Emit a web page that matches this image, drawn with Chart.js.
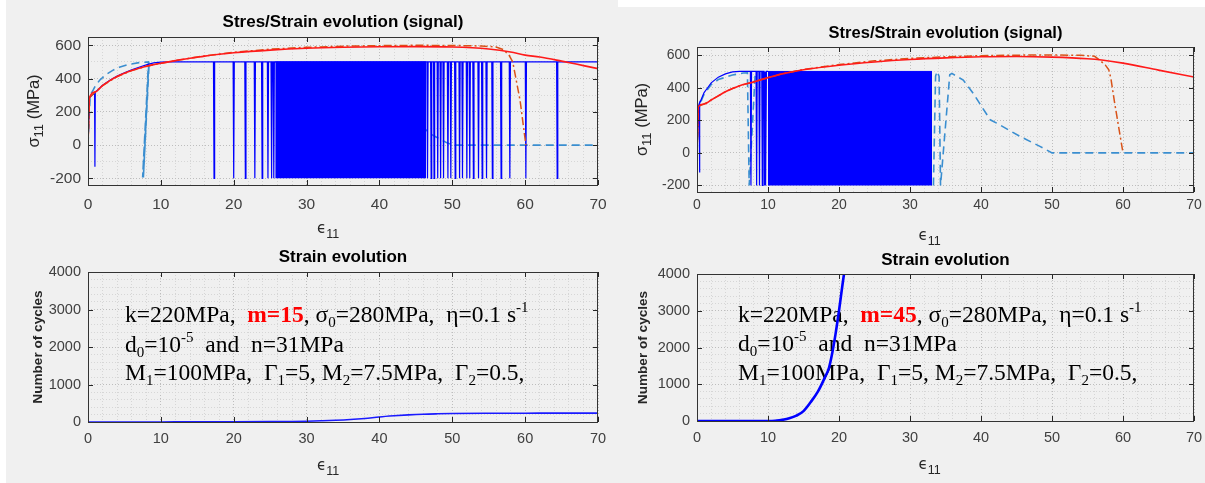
<!DOCTYPE html>
<html>
<head>
<meta charset="utf-8">
<script src="https://cdn.jsdelivr.net/npm/chart.js@4.4.1/dist/chart.umd.min.js"></script>
<style>
html, body { margin: 0; padding: 0; background: #fff; }
#page { position: relative; width: 1205px; height: 483px; overflow: hidden; background: #fff; }
.bg { position: absolute; background: #f0f0f0; }
canvas { position: absolute; }
</style>
</head>
<body>
<div id="page">
  <div class="bg" style="left:6px;top:0;width:594px;height:483px"></div>
  <div class="bg" style="left:600px;top:7px;width:605px;height:476px"></div>
  <div class="bg" style="left:600px;top:0;width:18px;height:7px"></div>
  <canvas id="c3" width="615" height="243" style="left:0;top:240px"></canvas>
  <canvas id="c4" width="605" height="243" style="left:600px;top:240px"></canvas>
  <canvas id="c1" width="615" height="255" style="left:0;top:0"></canvas>
  <canvas id="c2" width="605" height="255" style="left:600px;top:0"></canvas>
</div>
<script>
// ---------------- tick labels
var xTicks = [0, 10, 20, 30, 40, 50, 60, 70];
var stressTicks = [-200, 0, 200, 400, 600];
var cycleTicks = [0, 1000, 2000, 3000, 4000];

// signal levels (MPa)
var sigTop = 500;
var sigBottom = -200;

// ---------------- m=15 (left)
var red15X = [0, 0.2, 1, 2, 3, 4, 5, 6, 7, 8, 9, 10, 12, 14, 16, 18, 20, 25, 30, 35, 40, 45, 50, 55, 58, 60, 62, 65, 68, 70];
var red15Y = [0, 285, 320, 358, 388, 412, 432, 448, 462, 474, 484, 492, 508, 522, 535, 546, 555, 571, 582, 588, 591, 592, 590, 578, 560, 541, 530, 505, 478, 460];

var dd15X = [0, 0.2, 1, 2, 4, 6, 8, 10, 15, 20, 25, 30, 35, 40, 45, 50, 54, 56, 57, 57.8, 58.3, 59.3, 60.1];
var dd15Y = [0, 285, 320, 358, 412, 448, 474, 492, 530, 558, 577, 588, 595, 598, 600, 599, 596, 590, 575, 540, 500, 270, 0];

var dash15X = [0, 0.3, 0.7, 1, 1.6, 2.5, 3.5, 4.3, 5.5, 7, 8.3, 7.5, 8.35, 7.6, 8.4, 8.4, 44.5, 46.9, 49.2, 50, 70];
var dash15Y = [0, 300, 330, 355, 390, 425, 452, 468, 484, 496, 500, -195, 500, -195, 500, null, 170, 70, 15, 0, 0];

var sig15X = [0, 0.2, 0.9, 0.95, 1.0, 2, 3, 4, 5, 6, 7, 8, 9, 10, 11];
var sig15Y = [0, 285, 315, -130, 318, 360, 390, 415, 435, 452, 468, 482, 494, 499, 500];
var cycles15 = [17.3, 20.0, 21.6, 22.9, 23.9, 24.7, 25.2, 25.5,
                46.6, 47.1, 47.5, 48.0, 48.4, 48.8, 49.4, 49.8, 50.4, 51.0, 51.4, 52.0, 52.4,
                52.9, 53.6, 54.1, 54.7, 55.5, 56.7, 57.9, 60.1, 64.4];
var block15 = [25.7, 46.4];
var sigEnd15 = 70;

var n15X = [0, 10, 20, 25, 28, 30, 32, 34, 36, 38, 40, 42, 44, 46, 48, 50, 55, 60, 65, 70];
var n15Y = [0, 2, 5, 10, 15, 22, 32, 45, 65, 95, 135, 165, 190, 208, 218, 225, 232, 235, 237, 238];

// ---------------- m=45 (right)
var red45X = [0, 0.2, 1, 2, 3, 4, 5, 6, 8, 10, 12, 15, 20, 25, 30, 35, 40, 45, 50, 55, 57, 60, 65, 70];
var red45Y = [0, 285, 300, 325, 350, 375, 395, 412, 436, 462, 485, 510, 538, 558, 573, 583, 590, 592, 588, 578, 570, 551, 508, 466];

var dd45X = [0, 0.2, 1, 2, 3, 4, 5, 6, 8, 10, 12, 15, 20, 25, 30, 35, 40, 45, 50, 54, 56, 56.7, 57.5, 58, 58.3, 58.8, 60];
var dd45Y = [0, 285, 300, 325, 350, 375, 395, 412, 436, 462, 485, 512, 542, 565, 580, 590, 597, 600, 601, 599, 593, 570, 540, 510, 456, 313, 0];

var dash45X = [0, 0.3, 1, 2, 3, 5, 6.5, 7.1, 7.35, 8.2, 8.2,
               33.3, 33.6, 33.8, 34.1, 34.3, 35.6, 35.9, 37.5, 38.9, 40.1, 41.3, 42.2, 45.5, 48.3, 50, 70];
var dash45Y = [0, 290, 360, 420, 450, 478, 490, 492, -200, 490, null,
               -200, 470, 500, 470, -200, 480, 488, 447, 366, 284, 203, 183, 101, 40, 0, 0];

var sig45X = [0, 0.2, 0.3, 0.35, 0.4, 1, 1.5, 2, 3, 4, 5, 6, 7.4];
var sig45Y = [0, 285, 300, -120, 305, 370, 400, 430, 465, 485, 497, 500, 500];
var cycles45 = [7.6, 8.4, 8.8, 9.2, 9.5, 9.7];
var block45 = [10.0, 33.1];
var sigEnd45 = 10.0;

var n45X = [0, 10, 11, 11.6, 12, 13, 14, 15, 16, 17, 18, 18.6, 19, 19.5, 20, 20.5, 21, 21.4];
var n45Y = [0, 0, 5, 18, 30, 73, 145, 270, 510, 790, 1180, 1455, 1800, 2350, 3000, 3720, 4400, 4950];

// ---------------- texts
var topTitle = 'Stres/Strain evolution (signal)';
var bottomTitle = 'Strain evolution';
function paramLines(mText) {
  return [
    [{t: 'k=220MPa,  '}, {t: mText, b: true, c: '#ff0000'}, {t: ', σ'}, {t: '0', sub: true}, {t: '=280MPa,  η=0.1 s'}, {t: '-1', sup: true}],
    [{t: 'd'}, {t: '0', sub: true}, {t: '=10'}, {t: '-5', sup: true}, {t: '  and  n=31MPa'}],
    [{t: 'M'}, {t: '1', sub: true}, {t: '=100MPa,  Γ'}, {t: '1', sub: true}, {t: '=5, M'}, {t: '2', sub: true},
     {t: '=7.5MPa,  Γ'}, {t: '2', sub: true}, {t: '=0.5,'}]
  ];
}
var sigmaLabel = [{t: 'σ'}, {t: '11', sub: true}, {t: ' (MPa)'}];
var epsLabel = [{t: 'ϵ'}, {t: '11', sub: true}];
var cyclesLabel = [{t: 'Number of cycles', b: true}];

// ---------------- helpers
function pts(xs, ys) {
  return xs.map(function (x, i) { return {x: x, y: ys[i]}; });
}
function signal(cx, cy, cycles, endX) {
  var d = pts(cx, cy);
  var w = 0.08;
  cycles.forEach(function (c) {
    d.push({x: c - w, y: sigTop}, {x: c, y: sigBottom}, {x: c + w, y: sigTop});
  });
  d.push({x: endX, y: sigTop});
  return d;
}
function stepTicks(a, b, s) {
  var t = [];
  for (var v = a; v <= b + 1e-9; v += s) t.push({value: Math.round(v * 1000) / 1000});
  return t;
}

function drawRuns(ctx, x, y, runs, f) {
  runs.forEach(function (r) {
    var small = r.sub || r.sup;
    ctx.font = (r.b ? 'bold ' : '') + (small ? f.small : f.size) + 'px ' + f.family;
    ctx.fillStyle = r.c || f.color || '#000';
    var dy = r.sub ? f.subDy : (r.sup ? f.supDy : 0);
    ctx.fillText(r.t, x, y + dy);
    x += ctx.measureText(r.t).width;
  });
  return x;
}
function runsWidth(ctx, runs, f) {
  var w = 0;
  runs.forEach(function (r) {
    ctx.font = (r.b ? 'bold ' : '') + ((r.sub || r.sup) ? f.small : f.size) + 'px ' + f.family;
    w += ctx.measureText(r.t).width;
  });
  return w;
}

function decoPlugin(g) {
  return {
    id: 'deco',
    beforeDatasetsDraw: function (chart) {
      var ctx = chart.ctx;
      if (!g.notes) return;
      ctx.save();
      ctx.textBaseline = 'alphabetic';
      var f = {family: '"Liberation Serif", "Times New Roman", serif', size: 23.5, small: 15, subDy: 5, supDy: -10, color: '#000'};
      g.notes.forEach(function (line, i) {
        drawRuns(ctx, g.noteX, g.noteY[i], line, f);
      });
      ctx.restore();
    },
    afterDatasetsDraw: function (chart) {
      var ctx = chart.ctx, a = chart.chartArea;
      var xs = chart.scales.x, ys = chart.scales.y;
      ctx.save();
      ctx.strokeStyle = '#262626';
      ctx.lineWidth = 1;
      ctx.beginPath();
      g.xLabels.forEach(function (v) {
        var px = Math.round(xs.getPixelForValue(v)) + 0.5;
        ctx.moveTo(px, a.bottom); ctx.lineTo(px, a.bottom - 5);
        ctx.moveTo(px, a.top); ctx.lineTo(px, a.top + 5);
      });
      g.yLabels.forEach(function (v) {
        var py = Math.round(ys.getPixelForValue(v)) + 0.5;
        ctx.moveTo(a.left, py); ctx.lineTo(a.left + 5, py);
        ctx.moveTo(a.right, py); ctx.lineTo(a.right - 5, py);
      });
      ctx.stroke();
      ctx.strokeStyle = '#333';
      ctx.strokeRect(Math.round(a.left) + 0.5, Math.round(a.top) + 0.5,
                     Math.round(a.right - a.left) - 1, Math.round(a.bottom - a.top));
      ctx.restore();
    },
    afterDraw: function (chart) {
      var ctx = chart.ctx, a = chart.chartArea;
      var cx = (a.left + a.right) / 2;
      ctx.save();
      // title
      ctx.font = 'bold ' + g.titleSize + 'px "Liberation Sans", Arial, sans-serif';
      ctx.fillStyle = '#000';
      ctx.textAlign = 'center';
      ctx.textBaseline = 'middle';
      ctx.fillText(g.title, cx, g.titleY);
      ctx.textAlign = 'left';
      ctx.textBaseline = 'alphabetic';
      // x label
      var fxs = {family: '"Liberation Sans", sans-serif', size: 15, small: 12.5, subDy: 5, supDy: 0, color: '#262626'};
      ctx.font = '15px "DejaVu Sans", sans-serif';
      ctx.fillStyle = '#262626';
      var ex = cx + g.xLabDx;
      ctx.fillText(epsLabel[0].t, ex, a.bottom + 48);
      ex += ctx.measureText(epsLabel[0].t).width;
      drawRuns(ctx, ex, a.bottom + 48, [epsLabel[1]], fxs);
      // y label
      var fy = g.yFont;
      var w = runsWidth(ctx, g.yRuns, fy);
      ctx.translate(g.yLabX, (a.top + a.bottom) / 2);
      ctx.rotate(-Math.PI / 2);
      drawRuns(ctx, -w / 2, 0, g.yRuns, fy);
      ctx.restore();
    }
  };
}

function makeChart(id, g, datasets) {
  var isMajX = function (v) { return g.xLabels.indexOf(v) >= 0; };
  var isMajY = function (v) { return g.yLabels.indexOf(v) >= 0; };
  var tickFont = {family: '"Liberation Sans", Arial, sans-serif', size: g.tickSize};
  return new Chart(document.getElementById(id), {
    type: 'line',
    data: {datasets: datasets},
    options: {
      responsive: false,
      animation: false,
      devicePixelRatio: 1,
      events: [],
      layout: {autoPadding: false, padding: {left: 0, top: g.T, right: g.R, bottom: 0}},
      elements: {point: {radius: 0}, line: {tension: 0}},
      plugins: {legend: {display: false}, title: {display: false}, tooltip: {enabled: false}},
      scales: {
        x: {
          type: 'linear', min: 0, max: 70,
          afterBuildTicks: function (s) { s.ticks = stepTicks(0, 70, 2); },
          afterFit: function (s) { s.height = g.B; s.paddingLeft = 0; s.paddingRight = 0; s.paddingTop = 0; s.paddingBottom = 0; },
          ticks: {autoSkip: false, maxRotation: 0, padding: g.xPad, color: '#404040', font: tickFont,
                  callback: function (v) { return isMajX(v) ? String(v) : ''; }},
          grid: {drawTicks: false, lineWidth: 1,
                 color: function (c) { return c.tick && isMajX(c.tick.value) ? '#bdbdbd' : '#d6d6d6'; }},
          border: {display: false, dash: [1, 2]}
        },
        y: {
          type: 'linear', min: g.yMin, max: g.yMax,
          afterBuildTicks: function (s) { s.ticks = stepTicks(g.yLabels[0], g.yLabels[g.yLabels.length - 1], g.yMinor); },
          afterFit: function (s) { s.width = g.L; s.paddingLeft = 0; s.paddingRight = 0; s.paddingTop = 0; s.paddingBottom = 0; },
          ticks: {autoSkip: false, padding: 7, color: '#404040', font: tickFont,
                  callback: function (v) { return isMajY(v) ? String(v) : ''; }},
          grid: {drawTicks: false, lineWidth: 1,
                 color: function (c) { return c.tick && isMajY(c.tick.value) ? '#bdbdbd' : '#d6d6d6'; }},
          border: {display: false, dash: [1, 2]}
        }
      }
    },
    plugins: [decoPlugin(g)]
  });
}

function stressSets(redX, redY, ddX, ddY, sig, block, dashX, dashY) {
  return [
    {data: pts(redX, redY), borderColor: '#ff1a1a', borderWidth: 1.6, cubicInterpolationMode: 'monotone'},
    {data: pts(ddX, ddY), borderColor: '#d95319', borderWidth: 1.5, borderDash: [8, 3, 2, 3]},
    {data: sig, borderColor: '#0000ff', borderWidth: 1.2},
    {data: [{x: block[0], y: sigTop}, {x: block[1], y: sigTop}], borderColor: '#0000ff', borderWidth: 1,
     backgroundColor: '#0000ff', fill: {value: sigBottom}},
    {data: pts(dashX, dashY), borderColor: '#3a8ed0', borderWidth: 1.6, borderDash: [8, 5]}
  ];
}

var sigmaFont = {family: '"Liberation Sans", "DejaVu Sans", sans-serif', size: 16.5, small: 13, subDy: 4, supDy: 0, color: '#262626'};
var cycFont = {family: '"Liberation Sans", Arial, sans-serif', size: 13.6, small: 10, subDy: 0, supDy: 0, color: '#262626'};

makeChart('c1', {T: 37, R: 17, L: 88, B: 70, xPad: 10, tickSize: 15.5, yMin: -240, yMax: 650, yMinor: 100,
  xLabels: xTicks, yLabels: stressTicks, title: topTitle, titleY: 22, titleSize: 17, xLabDx: -26,
  yRuns: sigmaLabel, yFont: sigmaFont, yLabX: 39},
  stressSets(red15X, red15Y, dd15X, dd15Y, signal(sig15X, sig15Y, cycles15, sigEnd15), block15, dash15X, dash15Y));

makeChart('c2', {T: 47, R: 11, L: 97, B: 63, xPad: 5, tickSize: 14, yMin: -240, yMax: 650, yMinor: 100,
  xLabels: xTicks, yLabels: stressTicks, title: topTitle, titleY: 33, titleSize: 16.5, xLabDx: -27,
  yRuns: sigmaLabel, yFont: sigmaFont, yLabX: 47},
  stressSets(red45X, red45Y, dd45X, dd45Y, signal(sig45X, sig45Y, cycles45, sigEnd45), block45, dash45X, dash45Y));

makeChart('c3', {T: 32, R: 17, L: 88, B: 61, xPad: 8, tickSize: 14.5, yMin: 0, yMax: 4000, yMinor: 200,
  xLabels: xTicks, yLabels: cycleTicks, title: bottomTitle, titleY: 17, titleSize: 17, xLabDx: -26,
  yRuns: cyclesLabel, yFont: cycFont, yLabX: 42,
  notes: paramLines('m=15'), noteX: 125, noteY: [82, 112, 140]},
  [{data: pts(n15X, n15Y), borderColor: '#1a1aff', borderWidth: 1.6, cubicInterpolationMode: 'monotone'}]);

makeChart('c4', {T: 34, R: 11, L: 97, B: 62, xPad: 8, tickSize: 14.5, yMin: 0, yMax: 4000, yMinor: 200,
  xLabels: xTicks, yLabels: cycleTicks, title: bottomTitle, titleY: 20, titleSize: 17, xLabDx: -27,
  yRuns: cyclesLabel, yFont: cycFont, yLabX: 47,
  notes: paramLines('m=45'), noteX: 138, noteY: [82, 111, 140]},
  [{data: pts(n45X, n45Y), borderColor: '#0000ff', borderWidth: 2.6, cubicInterpolationMode: 'monotone'}]);
</script>
</body>
</html>
